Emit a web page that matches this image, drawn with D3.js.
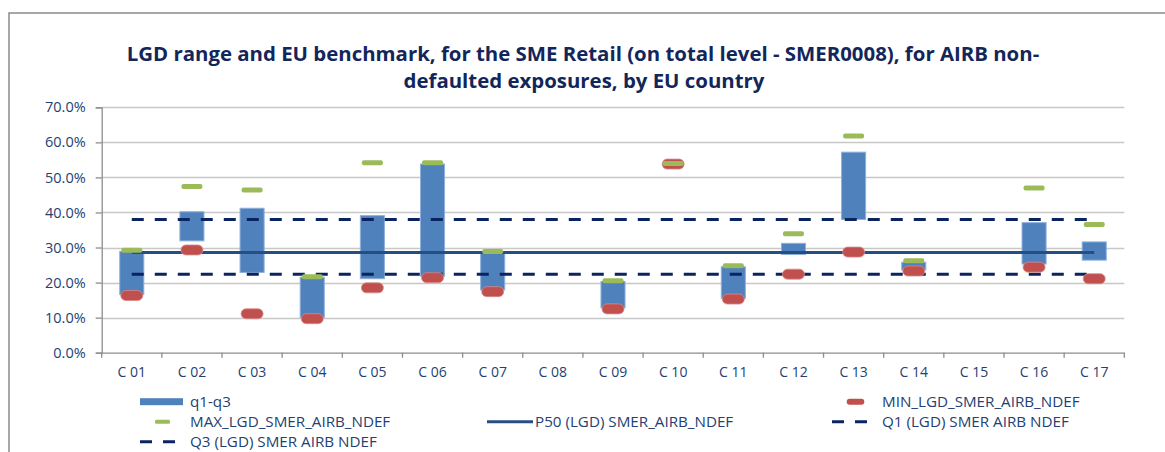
<!DOCTYPE html>
<html><head><meta charset="utf-8">
<script src="https://cdn.jsdelivr.net/npm/d3@7"></script>
<style>
html,body{margin:0;padding:0;background:#fff;}
svg{display:block;}
</style></head>
<body>
<svg id="chart" width="1165" height="452"></svg>
<script>
const categories = ["C 01","C 02","C 03","C 04","C 05","C 06","C 07","C 08","C 09","C 10","C 11","C 12","C 13","C 14","C 15","C 16","C 17"];
const q1Values  = [16.6, 31.9, 22.9, 10.0, 21.1, 21.8, 17.9, null, 12.8, null, 15.5, 28.0, 38.0, 23.6, null, 25.3, 26.4];
const q3Values  = [28.9, 40.2, 41.2, 21.5, 39.1, 53.8, 28.8, null, 20.3, null, 24.5, 31.2, 57.2, 25.8, null, 37.1, 31.6];
const minValues = [16.3, 29.3, 11.1, 9.7, 18.5, 21.4, 17.4, null, 12.5, 53.8, 15.3, 22.4, 28.7, 23.3, null, 24.4, 21.1];
const maxValues = [29.2, 47.4, 46.4, 21.7, 54.2, 54.2, 28.9, null, 20.5, 54.0, 24.8, 33.9, 61.8, 26.2, null, 47.0, 36.6];
const p50Line = [28.6, 28.6, 28.6, 28.6, 28.6, 28.6, 28.6, 28.6, 28.6, 28.6, 28.6, 28.6, 28.6, 28.6, 28.6, 28.6, 28.6];
const q1Line  = [22.4, 22.4, 22.4, 22.4, 22.4, 22.4, 22.4, 22.4, 22.4, 22.4, 22.4, 22.4, 22.4, 22.4, 22.4, 22.4, 22.4];
const q3Line  = [38.0, 38.0, 38.0, 38.0, 38.0, 38.0, 38.0, 38.0, 38.0, 38.0, 38.0, 38.0, 38.0, 38.0, 38.0, 38.0, 38.0];
const yTicks = [0, 10, 20, 30, 40, 50, 60, 70];
const titleLines = ["LGD range and EU benchmark, for the SME Retail (on total level - SMER0008), for AIRB non-", "defaulted exposures, by EU country"];
const legendLabels = ["q1-q3", "", "MIN_LGD_SMER_AIRB_NDEF", "MAX_LGD_SMER_AIRB_NDEF", "P50 (LGD) SMER_AIRB_NDEF", "Q1 (LGD) SMER AIRB NDEF", "Q3 (LGD) SMER AIRB NDEF"];
const legendTypes = ["bar", "none", "min", "max", "solid", "dash", "dash"];

const C = {
  bar: "#4F81BD", barEdge: "#8EB0DA", max: "#9BBB59", min: "#C0504D", minEdge: "#D88C8A",
  p50: "#254F82", dash: "#0A2462", grid: "#C8C8C8", axis: "#8C8C8C", text: "#243F73", title: "#13265A"
};
const FONT = "'Open Sans', 'Liberation Sans', sans-serif";

const svg = d3.select("#chart");
// outer frame
svg.append("rect").attr("x", 9).attr("y", 13).attr("width", 1300).attr("height", 600)
  .attr("fill", "none").attr("stroke", "#8a8a8a").attr("stroke-width", 1.5);

const plot = {left: 101.7, right: 1124.3, top: 107.3, bottom: 352.7};
const x = d3.scaleBand().domain(categories).range([plot.left, plot.right]).paddingInner(0).paddingOuter(0);
const y = d3.scaleLinear().domain([0, 70]).range([plot.bottom, plot.top]);
const bw = x.bandwidth() * 0.4;
const cx = c => x(c) + x.bandwidth() / 2;

// gridlines
svg.append("g").selectAll("line").data(yTicks.filter(t => t > 0)).join("line")
  .attr("x1", plot.left).attr("x2", plot.right)
  .attr("y1", d => Math.round(y(d)) + 0.5).attr("y2", d => Math.round(y(d)) + 0.5)
  .attr("stroke", C.grid).attr("stroke-width", 1.3);

// y axis
const yAxis = svg.append("g").attr("transform", `translate(${plot.left},0)`)
  .call(d3.axisLeft(y).tickValues(yTicks).tickFormat(d => d.toFixed(1) + "%").tickSize(6).tickPadding(10));
yAxis.select(".domain").attr("stroke", C.axis).attr("stroke-width", 1.3);
yAxis.selectAll(".tick line").attr("stroke", C.axis).attr("stroke-width", 1.3);
yAxis.selectAll("text").attr("fill", C.text).style("font-family", FONT).style("font-size", "14.5px");

// x axis
const xAxis = svg.append("g").attr("transform", `translate(0,${plot.bottom})`)
  .call(d3.axisBottom(x).tickSize(0).tickPadding(14));
xAxis.select(".domain").attr("stroke", C.axis).attr("stroke-width", 1.3);
xAxis.selectAll("text").attr("fill", C.text).style("font-family", FONT).style("font-size", "14px");
// x ticks between categories
const boundaries = categories.map(c => x(c)).concat([x(categories[categories.length - 1]) + x.bandwidth()]);
xAxis.selectAll(".bt").data(boundaries).join("line").attr("class", "bt")
  .attr("x1", d => d).attr("x2", d => d).attr("y1", 0).attr("y2", 5)
  .attr("stroke", C.axis).attr("stroke-width", 1.3);

// q1-q3 bars
const idx = d3.range(categories.length);
svg.append("g").selectAll("rect").data(idx.filter(i => q1Values[i] != null && q3Values[i] != null)).join("rect")
  .attr("x", i => cx(categories[i]) - bw / 2).attr("width", bw)
  .attr("y", i => y(q3Values[i])).attr("height", i => y(q1Values[i]) - y(q3Values[i]))
  .attr("fill", C.bar).attr("stroke", C.barEdge).attr("stroke-width", 1);

// lines
const lineGen = arr => d3.line().x((d, i) => cx(categories[i])).y(d => y(d))(arr);
svg.append("path").attr("d", lineGen(p50Line)).attr("fill", "none").attr("stroke", C.p50).attr("stroke-width", 3);
svg.append("path").attr("d", lineGen(q1Line)).attr("fill", "none").attr("stroke", C.dash).attr("stroke-width", 3).attr("stroke-dasharray", "12,11");
svg.append("path").attr("d", lineGen(q3Line)).attr("fill", "none").attr("stroke", C.dash).attr("stroke-width", 3).attr("stroke-dasharray", "12,11");

// MIN markers
const minW = 22, minH = 10, maxW = 21, maxH = 5;
svg.append("g").selectAll("rect").data(idx.filter(i => minValues[i] != null)).join("rect")
  .attr("x", i => cx(categories[i]) - minW / 2).attr("y", i => y(minValues[i]) - minH / 2)
  .attr("width", minW).attr("height", minH).attr("rx", 5).attr("ry", 5)
  .attr("fill", C.min).attr("stroke", C.minEdge).attr("stroke-width", 0.8);
// MAX markers
svg.append("g").selectAll("rect").data(idx.filter(i => maxValues[i] != null)).join("rect")
  .attr("x", i => cx(categories[i]) - maxW / 2).attr("y", i => y(maxValues[i]) - maxH / 2)
  .attr("width", maxW).attr("height", maxH).attr("rx", 2).attr("ry", 2)
  .attr("fill", C.max);

// title
const tg = svg.append("g");
const titleTargetWidth = 913;
const t0 = tg.append("text").attr("x", 583).attr("y", 60.7).attr("text-anchor", "middle")
  .style("font-family", FONT).style("font-weight", "bold").style("font-size", "18px")
  .attr("fill", C.title).text(titleLines[0]);
const w0 = t0.node().getComputedTextLength();
const tfs = 18 * titleTargetWidth / w0;
t0.style("font-size", tfs + "px");
tg.append("text").attr("x", 584).attr("y", 88).attr("text-anchor", "middle")
  .style("font-family", FONT).style("font-weight", "bold").style("font-size", tfs + "px")
  .attr("fill", C.title).text(titleLines[1]);

// legend
const colX = [140, 487, 832];
const rowY = [401.7, 421.7, 441.7];
const lg = svg.append("g");
legendLabels.forEach((lab, i) => {
  const col = i % 3, row = Math.floor(i / 3);
  const x0 = colX[col], yc = rowY[row];
  const t = legendTypes[i];
  if (t === "none") return;
  if (t === "bar") lg.append("rect").attr("x", x0).attr("y", yc - 3.5).attr("width", 43).attr("height", 7).attr("fill", C.bar);
  if (t === "min") lg.append("rect").attr("x", x0 + 14.7).attr("y", yc - 3).attr("width", 17.6).attr("height", 6).attr("rx", 3).attr("fill", C.min);
  if (t === "max") lg.append("rect").attr("x", x0 + 15).attr("y", yc - 2).attr("width", 15).attr("height", 4).attr("rx", 1.5).attr("fill", C.max);
  if (t === "solid") lg.append("line").attr("x1", x0).attr("x2", x0 + 46).attr("y1", yc).attr("y2", yc).attr("stroke", C.p50).attr("stroke-width", 3);
  if (t === "dash") lg.append("line").attr("x1", x0).attr("x2", x0 + 35).attr("y1", yc).attr("y2", yc).attr("stroke", C.dash).attr("stroke-width", 3).attr("stroke-dasharray", "12,11");
  lg.append("text").attr("x", x0 + (t === "solid" ? 48 : 50)).attr("y", yc).attr("dy", "0.35em")
    .style("font-family", FONT).style("font-size", "15.2px").attr("fill", C.text).text(lab);
});
</script>
</body></html>
